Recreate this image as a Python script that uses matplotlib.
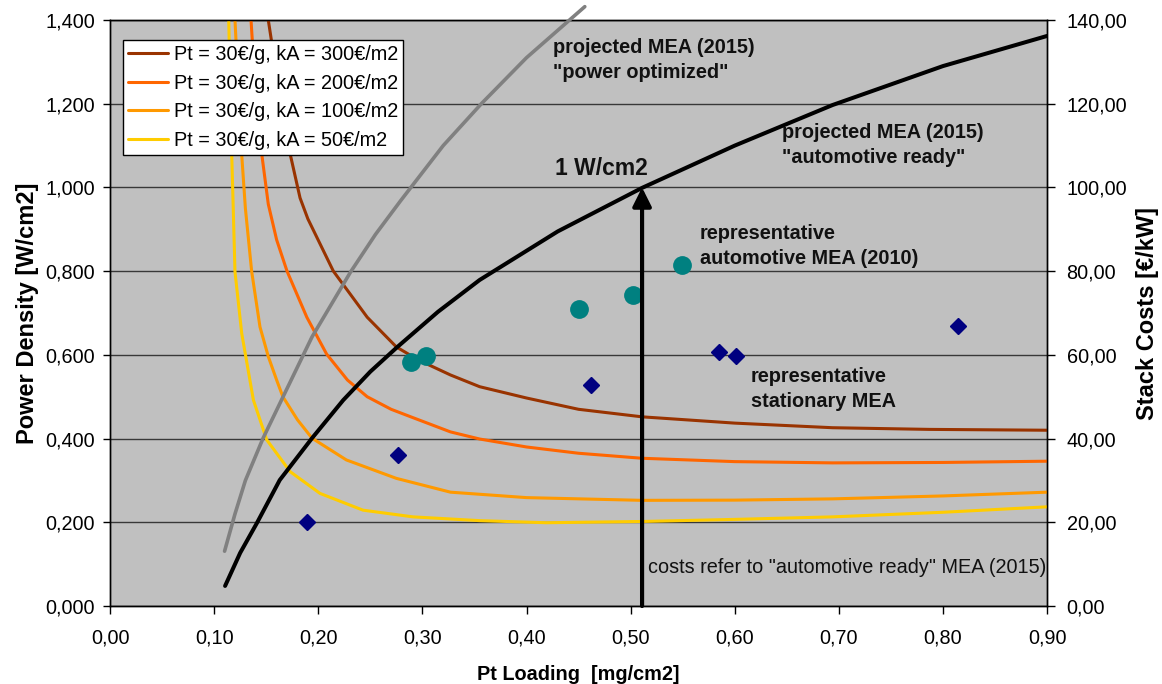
import matplotlib
matplotlib.use('Agg')
import matplotlib.pyplot as plt
from matplotlib.ticker import FuncFormatter, MultipleLocator

plt.rcParams['font.family'] = ['Liberation Sans', 'DejaVu Sans']

# ---------------- data ----------------
# projected MEA (2015) "power optimized"  [Pt loading mg/cm2, power density W/cm2]
power_opt_x = [0.110, 0.120, 0.130, 0.147, 0.166, 0.194, 0.231, 0.255, 0.279, 0.320, 0.357, 0.400, 0.456]
power_opt_y = [0.131, 0.220, 0.300, 0.401, 0.499, 0.643, 0.798, 0.888, 0.968, 1.100, 1.201, 1.310, 1.432]

# projected MEA (2015) "automotive ready"
auto_ready_x = [0.1105, 0.125, 0.141, 0.163, 0.194, 0.224, 0.250, 0.276, 0.315, 0.355, 0.430,
                0.511, 0.600, 0.694, 0.800, 0.900]
auto_ready_y = [0.048, 0.127, 0.198, 0.301, 0.401, 0.492, 0.560, 0.619, 0.703, 0.779, 0.895,
                0.999, 1.100, 1.197, 1.290, 1.362]

# representative automotive MEA (2010)
auto_2010_x = [0.289, 0.303, 0.450, 0.502, 0.549]
auto_2010_y = [0.583, 0.597, 0.710, 0.743, 0.815]

# representative stationary MEA
stat_x = [0.189, 0.277, 0.462, 0.585, 0.601, 0.814]
stat_y = [0.200, 0.361, 0.528, 0.606, 0.598, 0.669]

# stack cost curves [Pt loading, EUR/kW]
cost_labels = ["Pt = 30€/g, kA = 300€/m2", "Pt = 30€/g, kA = 200€/m2",
               "Pt = 30€/g, kA = 100€/m2", "Pt = 30€/g, kA = 50€/m2"]
cost300_x = [0.152, 0.160, 0.173, 0.1825, 0.190, 0.2145, 0.247, 0.275, 0.296, 0.327, 0.355,
             0.400, 0.450, 0.511, 0.600, 0.694, 0.787, 0.900]
cost300_y = [140.0, 127.0, 108.0, 97.5, 92.5, 80.0, 69.0, 61.9, 58.8, 55.2, 52.4,
             49.7, 47.0, 45.2, 43.7, 42.6, 42.2, 42.0]
cost200_x = [0.1354, 0.1405, 0.1457, 0.152, 0.160, 0.170, 0.189, 0.208, 0.228, 0.247, 0.270,
             0.291, 0.327, 0.355, 0.400, 0.450, 0.511, 0.600, 0.694, 0.800, 0.900]
cost200_y = [140.0, 120.0, 108.0, 96.0, 87.5, 80.0, 69.0, 60.2, 54.0, 50.0, 47.0,
             45.0, 41.6, 39.9, 38.0, 36.5, 35.3, 34.5, 34.2, 34.3, 34.6]
cost100_x = [0.120, 0.1265, 0.130, 0.136, 0.144, 0.152, 0.160, 0.166, 0.180, 0.194, 0.227,
             0.275, 0.327, 0.400, 0.511, 0.600, 0.694, 0.800, 0.900]
cost100_y = [140.0, 107.7, 95.0, 80.0, 66.7, 59.6, 54.0, 50.0, 44.5, 40.1, 34.9,
             30.5, 27.2, 25.9, 25.25, 25.3, 25.6, 26.3, 27.2]
cost50_x = [0.114, 0.1169, 0.1185, 0.120, 0.1265, 0.1377, 0.1505, 0.173, 0.2017, 0.243, 0.291,
            0.355, 0.419, 0.511, 0.600, 0.694, 0.800, 0.900]
cost50_y = [140.0, 107.7, 93.4, 79.9, 65.1, 49.2, 39.7, 32.1, 26.9, 22.9, 21.3,
            20.4, 19.9, 20.2, 20.7, 21.3, 22.4, 23.7]
cost_colors = ["#993300", "#FF6600", "#FF9900", "#FFCC00"]

arrow_x = 0.511
arrow_top = 1.0

# ---------------- figure ----------------
fig = plt.figure(figsize=(11.62, 6.84), dpi=100)
ax = fig.add_axes([0.0947, 0.1140, 0.8064, 0.8567])
ax2 = ax.twinx()

ax2.set_zorder(1)
ax.set_zorder(2)
ax.patch.set_visible(False)
ax2.patch.set_visible(True)
ax2.patch.set_facecolor('#C0C0C0')

FS = 14.3

# cost curves on the right axis
cost_series = [(cost300_x, cost300_y), (cost200_x, cost200_y),
               (cost100_x, cost100_y), (cost50_x, cost50_y)]
handles = []
for (cx, cy), col, lab in zip(cost_series, cost_colors, cost_labels):
    h, = ax2.plot(cx, cy, color=col, lw=2.2, label=lab, solid_capstyle='round',
                  solid_joinstyle='round', zorder=3)
    handles.append(h)

ax2.set_ylim(0, 140)
ax2.yaxis.set_major_locator(MultipleLocator(20))
ax2.yaxis.set_major_formatter(FuncFormatter(lambda v, p: f"{v:.2f}".replace('.', ',')))
ax2.yaxis.grid(True, color='#383838', lw=1.0)
ax2.set_axisbelow(True)
ax2.tick_params(axis='y', direction='out', length=6, width=1, labelsize=FS, pad=8, colors='black')
ax2.set_ylabel('Stack Costs [€/kW]', fontsize=17, fontweight='bold', rotation=90)
ax2.yaxis.set_label_coords(1.095, 0.5)

# primary axis content
ax.plot(power_opt_x, power_opt_y, color='#808080', lw=2.6, solid_capstyle='round',
        solid_joinstyle='round', clip_on=False, zorder=3)
ax.plot(auto_ready_x, auto_ready_y, color='black', lw=2.9, solid_capstyle='round',
        solid_joinstyle='round', zorder=4)
ax.plot(auto_2010_x, auto_2010_y, ls='none', marker='o', ms=12.5, color='#008080', zorder=5)
ax.plot(stat_x, stat_y, ls='none', marker='D', ms=8.5, color='#000080', zorder=5)

ax.annotate('', xy=(arrow_x, arrow_top), xytext=(arrow_x, 0.0),
            arrowprops=dict(arrowstyle='-|>', color='black', lw=3, mutation_scale=28,
                            shrinkA=0, shrinkB=0), zorder=6)

ax.set_xlim(0, 0.9)
ax.set_ylim(0, 1.4)
ax.xaxis.set_major_locator(MultipleLocator(0.1))
ax.yaxis.set_major_locator(MultipleLocator(0.2))
ax.xaxis.set_major_formatter(FuncFormatter(lambda v, p: f"{v:.2f}".replace('.', ',')))
ax.yaxis.set_major_formatter(FuncFormatter(lambda v, p: f"{v:.3f}".replace('.', ',')))
ax.tick_params(axis='x', direction='out', length=6, width=1, labelsize=FS, pad=10, colors='black')
ax.tick_params(axis='y', direction='out', length=5, width=1, labelsize=FS, pad=6, colors='black')

ax.set_xlabel('Pt Loading  [mg/cm2]', fontsize=FS, fontweight='bold')
ax.xaxis.set_label_coords(0.5, -0.100)
ax.set_ylabel('Power Density [W/cm2]', fontsize=17, fontweight='bold')
ax.yaxis.set_label_coords(-0.076, 0.5)

for a in (ax, ax2):
    for s in a.spines.values():
        s.set_color('black')
        s.set_linewidth(1.0)

# annotations
TXT = '#111111'
ax.text(0.4255, 1.356, 'projected MEA (2015)\n"power optimized"', fontsize=FS,
        fontweight='bold', ha='left', va='top', linespacing=1.4, color=TXT)
ax.text(0.6455, 1.154, 'projected MEA (2015)\n"automotive ready"', fontsize=FS,
        fontweight='bold', ha='left', va='top', linespacing=1.4, color=TXT)
ax.text(0.4274, 1.030, '1 W/cm2', fontsize=16.5, fontweight='bold', ha='left',
        va='baseline', color=TXT)
ax.text(0.5667, 0.912, 'representative\nautomotive MEA (2010)', fontsize=FS,
        fontweight='bold', ha='left', va='top', linespacing=1.4, color=TXT)
ax.text(0.6154, 0.572, 'representative\nstationary MEA', fontsize=FS,
        fontweight='bold', ha='left', va='top', linespacing=1.4, color=TXT)
ax.text(0.5168, 0.091, 'costs refer to "automotive ready" MEA (2015)', fontsize=FS,
        ha='left', va='center', color=TXT)

leg = ax.legend(handles=handles, loc='upper left', bbox_to_anchor=(0.0139, 0.966),
                borderaxespad=0, fontsize=FS, frameon=True, fancybox=False,
                edgecolor='black', framealpha=1, borderpad=0.25, labelspacing=0.49,
                handlelength=2.0, handletextpad=0.3)
leg.get_frame().set_linewidth(1.0)
leg.set_zorder(10)

fig.savefig('out.png', dpi=100, facecolor='white')
